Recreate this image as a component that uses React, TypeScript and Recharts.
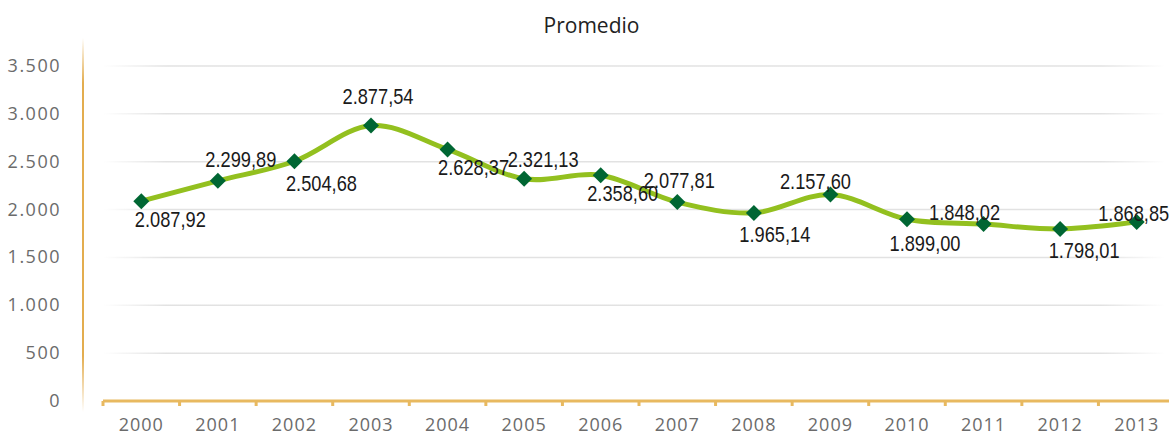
import React from 'react';
import { LineChart, Line, XAxis, YAxis, CartesianGrid, LabelList } from 'recharts';

const years = ['2000', '2001', '2002', '2003', '2004', '2005', '2006', '2007', '2008', '2009', '2010', '2011', '2012', '2013'];
const promedio = [2087.92, 2299.89, 2504.68, 2877.54, 2628.37, 2321.13, 2358.6, 2077.81, 1965.14, 2157.6, 1899.0, 1848.02, 1798.01, 1868.85];
const yTicks = [0, 500, 1000, 1500, 2000, 2500, 3000, 3500];

// where each value label sits relative to its point (as in the source chart)
const labelDx = [29, 23, 27, 7, 26, 19, 22, 2, 21, -15, 18, -19, 24, -3];
const labelDy = [26, -14, 30, -22, 26, -12, 26, -14, 29, -5, 32, -4, 29, -1];

const data = years.map((year, i) => ({ year, value: promedio[i] }));

const W = 1175;
const H = 435;
const PLOT_LEFT = 103;
const BAND = (W - PLOT_LEFT) / years.length;

const fmt = (v: number, dec: number) =>
  v.toLocaleString('de-DE', { minimumFractionDigits: dec, maximumFractionDigits: dec });

// Excel-like smooth line (uniform Catmull-Rom)
function catmullRom(context: any) {
  let pts: number[][] = [];
  return {
    areaStart() {},
    areaEnd() {},
    lineStart() {
      pts = [];
    },
    point(x: number, y: number) {
      pts.push([+x, +y]);
    },
    lineEnd() {
      if (!pts.length) return;
      context.moveTo(pts[0][0], pts[0][1]);
      for (let i = 0; i < pts.length - 1; i++) {
        const p0 = pts[i - 1] || pts[i];
        const p1 = pts[i];
        const p2 = pts[i + 1];
        const p3 = pts[i + 2] || p2;
        context.bezierCurveTo(
          p1[0] + (p2[0] - p0[0]) / 6,
          p1[1] + (p2[1] - p0[1]) / 6,
          p2[0] - (p3[0] - p1[0]) / 6,
          p2[1] - (p3[1] - p1[1]) / 6,
          p2[0],
          p2[1]
        );
      }
    },
  };
}

const Diamond = (props: any) => {
  const { cx, cy } = props;
  if (cx == null || cy == null) return null;
  const r = 8;
  return (
    <path
      d={`M${cx},${cy - r}L${cx + r},${cy}L${cx},${cy + r}L${cx - r},${cy}Z`}
      fill="#006633"
    />
  );
};

const XTick = (props: any) => {
  const { x, y, payload } = props;
  return (
    <g>
      <line x1={x - BAND / 2} x2={x - BAND / 2} y1={y - 8} y2={y - 3} stroke="#e8b960" strokeWidth={3} />
      <text
        x={x}
        y={y + 22}
        textAnchor="middle"
        fill="#6b6b6b"
        fontSize={18}
        letterSpacing={1}
        fontFamily="'Open Sans', sans-serif"
      >
        {payload.value}
      </text>
    </g>
  );
};

const YTick = (props: any) => {
  const { y, payload } = props;
  return (
    <text
      x={61}
      y={y + 6}
      textAnchor="end"
      fill="#6b6b6b"
      fontSize={18}
      letterSpacing={1.5}
      fontFamily="'Open Sans', sans-serif"
    >
      {fmt(payload.value, 0)}
    </text>
  );
};

const ValueLabel = (props: any) => {
  const { x, y, index, value } = props;
  return (
    <text
      x={x + labelDx[index]}
      y={y + labelDy[index]}
      textAnchor="middle"
      fill="#1a1a1a"
      fontSize={22}
      textLength={71}
      lengthAdjust="spacingAndGlyphs"
      fontFamily="'Liberation Sans', Arial, sans-serif"
    >
      {fmt(value, 2)}
    </text>
  );
};

export default function App() {
  return (
    <div style={{ position: 'absolute', left: 0, top: 0, width: 1169, height: H, overflow: 'hidden', background: '#fff' }}>
      <div
        style={{
          position: 'absolute',
          left: 7,
          top: 11,
          width: 1169,
          textAlign: 'center',
          fontFamily: "'Open Sans', sans-serif",
          fontSize: 21,
          color: '#222',
        }}
      >
        Promedio
      </div>
      <div
        style={{
          position: 'absolute',
          left: 82,
          top: 38,
          width: 2,
          height: 374,
          background: 'linear-gradient(to bottom, rgba(232,185,96,0) 0%, #e3ad4f 12%, #e3ad4f 85%, rgba(232,185,96,0) 100%)',
        }}
      />
      <LineChart width={W} height={H} data={data} margin={{ top: 66, right: 0, bottom: 0, left: 0 }}>
        <defs>
          <linearGradient id="gridFade" gradientUnits="userSpaceOnUse" x1={PLOT_LEFT} y1={0} x2={W - 10} y2={0}>
            <stop offset="0%" stopColor="#e2e2e2" stopOpacity={0} />
            <stop offset="6%" stopColor="#e2e2e2" stopOpacity={1} />
            <stop offset="94%" stopColor="#e2e2e2" stopOpacity={1} />
            <stop offset="100%" stopColor="#e2e2e2" stopOpacity={0} />
          </linearGradient>
        </defs>
        <CartesianGrid vertical={false} stroke="url(#gridFade)" strokeWidth={1.5} />
        <XAxis
          dataKey="year"
          height={34}
          padding={{ left: BAND / 2, right: BAND / 2 }}
          axisLine={{ stroke: '#e8b960', strokeWidth: 3 }}
          tickLine={false}
          tick={<XTick />}
          interval={0}
        />
        <YAxis
          width={PLOT_LEFT}
          domain={[0, 3500]}
          ticks={yTicks}
          axisLine={false}
          tickLine={false}
          tick={<YTick />}
          interval={0}
        />
        <Line
          dataKey="value"
          type={catmullRom as any}
          stroke="#93c01f"
          strokeWidth={5}
          dot={<Diamond />}
          activeDot={false}
          isAnimationActive={false}
        >
          <LabelList dataKey="value" content={<ValueLabel />} />
        </Line>
      </LineChart>
    </div>
  );
}
